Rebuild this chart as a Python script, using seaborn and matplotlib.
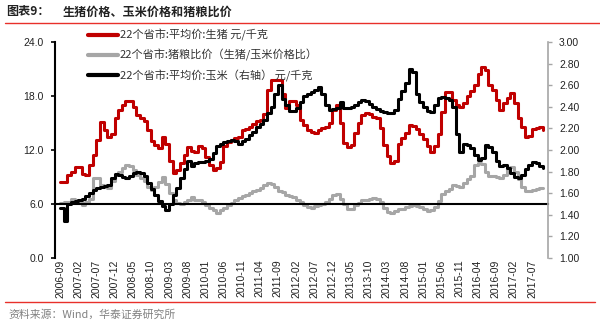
import numpy as np
import pandas as pd
import matplotlib
matplotlib.use("Agg")
import matplotlib.pyplot as plt
import seaborn as sns
from matplotlib.lines import Line2D
from matplotlib.ticker import FormatStrFormatter

# ---------------- data ----------------
months = pd.period_range("2006-09", periods=134, freq="M")

hog_price = [8.4, 8.5, 9.2, 9.6, 10.1, 10.1, 9.3, 9.2, 10.3, 11.5,
             13.1, 15.1, 14.2, 13.4, 13.8, 15.6, 16.4, 17.0, 17.4, 17.5,
             16.8, 15.9, 15.6, 15.2, 14.2, 13.0, 12.6, 12.2, 13.4, 12.7,
             10.8, 9.4, 9.8, 10.6, 11.4, 12.3, 11.9, 11.8, 12.4, 12.2,
             11.2, 10.3, 9.8, 10.0, 10.7, 12.5, 12.9, 13.1, 13.3, 13.5,
             14.2, 14.3, 14.6, 14.9, 15.2, 15.3, 16.0, 18.7, 19.8, 19.8,
             19.8, 18.2, 16.7, 17.5, 17.5, 17.0, 15.3, 14.8, 14.2, 14.0,
             13.9, 14.2, 14.4, 14.6, 15.0, 16.4, 17.0, 15.0, 12.8, 12.3,
             12.6, 13.9, 15.0, 15.9, 16.1, 16.0, 15.7, 15.6, 14.5, 12.6,
             11.3, 10.6, 10.8, 12.7, 13.3, 13.9, 14.8, 14.7, 14.3, 13.8,
             13.2, 12.4, 11.8, 12.5, 13.8, 16.2, 18.5, 18.5, 17.6, 17.0,
             16.8, 17.2, 18.0, 18.6, 19.2, 20.4, 21.2, 20.9, 19.2, 18.7,
             17.6, 16.5, 17.2, 17.8, 18.3, 17.2, 15.6, 14.6, 13.4, 13.6,
             14.3, 14.4, 14.6, 14.2]

corn_price = [1.46, 1.34, 1.50, 1.52, 1.53, 1.54, 1.55, 1.57, 1.60, 1.63,
              1.65, 1.66, 1.67, 1.68, 1.74, 1.78, 1.77, 1.75, 1.74, 1.76,
              1.79, 1.80, 1.79, 1.76, 1.69, 1.64, 1.58, 1.53, 1.48, 1.44,
              1.50, 1.58, 1.65, 1.74, 1.82, 1.90, 1.85, 1.88, 1.89, 1.89,
              1.90, 1.92, 1.97, 2.04, 2.06, 2.07, 2.08, 2.09, 2.08, 2.06,
              2.08, 2.10, 2.14, 2.17, 2.21, 2.24, 2.28, 2.34, 2.40, 2.52,
              2.60, 2.47, 2.42, 2.36, 2.36, 2.39, 2.44, 2.50, 2.52, 2.54,
              2.56, 2.58, 2.52, 2.42, 2.37, 2.38, 2.39, 2.44, 2.39, 2.39,
              2.40, 2.42, 2.44, 2.46, 2.45, 2.43, 2.40, 2.38, 2.36, 2.35,
              2.34, 2.34, 2.37, 2.47, 2.55, 2.62, 2.75, 2.72, 2.52, 2.44,
              2.40, 2.36, 2.35, 2.42, 2.48, 2.49, 2.48, 2.46, 2.40, 2.15,
              1.98, 2.06, 2.05, 2.02, 1.95, 1.91, 1.93, 2.05, 2.03, 1.98,
              1.90, 1.85, 1.86, 1.83, 1.79, 1.75, 1.74, 1.77, 1.82, 1.86,
              1.89, 1.88, 1.85, 1.83]

hog_corn_ratio = [6.1, 6.2, 6.2, 6.6, 6.4, 6.2, 5.9, 6.2, 6.6, 8.9,
                  8.9, 8.1, 8.0, 7.8, 8.6, 9.2, 9.6, 10.0, 10.3, 10.2,
                  9.8, 9.2, 8.9, 8.6, 7.9, 7.6, 7.9, 8.4, 9.0, 8.2,
                  7.2, 6.4, 6.1, 6.0, 6.2, 6.5, 6.8, 6.5, 6.4, 6.2,
                  5.9, 5.6, 5.3, 5.0, 5.3, 5.6, 5.9, 6.1, 6.4, 6.7,
                  6.9, 7.0, 7.2, 7.4, 7.6, 7.8, 8.1, 8.3, 8.2, 7.9,
                  7.5, 7.3, 7.0, 6.9, 6.8, 6.5, 6.2, 5.9, 5.7, 5.6,
                  5.8, 5.9, 6.0, 6.2, 6.6, 7.0, 7.1, 6.6, 6.0, 5.4,
                  5.5, 5.9, 6.1, 6.4, 6.5, 6.6, 6.7, 6.6, 6.2, 5.6,
                  5.1, 5.0, 5.2, 5.4, 5.5, 5.7, 5.8, 5.9, 5.8, 5.7,
                  5.4, 5.2, 5.3, 5.7, 6.3, 7.1, 7.5, 7.7, 8.1, 8.0,
                  7.9, 8.3, 8.8, 9.1, 10.3, 10.6, 10.5, 9.6, 9.1, 9.1,
                  9.0, 8.9, 9.2, 9.9, 10.1, 9.6, 8.8, 7.9, 7.5, 7.5,
                  7.6, 7.7, 7.8, 7.8]

tick_labels = [str(p) for p in months[::5]]

series_names = ["22个省市:平均价:生猪 元/千克",
                "22个省市:猪粮比价（生猪/玉米价格比）",
                "22个省市:平均价:玉米（右轴） 元/千克"]

left_ticks = [0, 6, 12, 18, 24]
right_ticks = [1.0, 1.2, 1.4, 1.6, 1.8, 2.0, 2.2, 2.4, 2.6, 2.8, 3.0]

df = pd.DataFrame({
    "idx": np.arange(len(months)),
    "hog": hog_price,
    "ratio": hog_corn_ratio,
    "corn": corn_price,
})

# ---------------- style ----------------
sns.set_style("white")
plt.rcParams["font.family"] = ["Liberation Sans", "Noto Sans CJK SC", "DejaVu Sans"]
CJK = ["Noto Sans CJK SC", "DejaVu Sans"]

RED = "#C00000"
GRAY = "#A6A6A6"
BLACK = "#000000"

fig = plt.figure(figsize=(6.0, 3.24), dpi=100)
ax = fig.add_axes([55 / 600, 1 - 258 / 324, (548 - 55) / 600, (258 - 42) / 324])
ax2 = ax.twinx()

sns.lineplot(data=df, x="idx", y="hog", ax=ax, color=RED, lw=2.2,
             drawstyle="steps-post", legend=False)
sns.lineplot(data=df, x="idx", y="ratio", ax=ax, color=GRAY, lw=2.2,
             drawstyle="steps-post", legend=False)
sns.lineplot(data=df, x="idx", y="corn", ax=ax2, color=BLACK, lw=2.2,
             drawstyle="steps-post", legend=False)

# spines (set before ticks, since moving a spine resets ticks)
for s in ["top", "right"]:
    ax.spines[s].set_visible(False)
ax.spines["bottom"].set_position(("data", 6))
ax.spines["bottom"].set_color(BLACK)
ax.spines["bottom"].set_linewidth(1.5)
ax.spines["left"].set_color(BLACK)
ax.spines["left"].set_linewidth(1.5)
for s in ["top", "bottom", "left"]:
    ax2.spines[s].set_visible(False)
ax2.spines["right"].set_color(GRAY)
ax2.spines["right"].set_linewidth(1.2)

# axes limits / ticks
ax.set_xlim(-1.4, 134.4)
ax.set_ylim(0, 24)
ax.set_yticks(left_ticks)
ax.yaxis.set_major_formatter(FormatStrFormatter("%.1f"))
ax2.set_ylim(1, 3)
ax2.set_yticks(right_ticks)
ax2.yaxis.set_major_formatter(FormatStrFormatter("%.2f"))

ax.set_xticks(np.arange(0, len(months), 5))
ax.set_xticklabels(tick_labels)
ax.set_xlabel("")
ax.set_ylabel("")
ax2.set_ylabel("")

ax.tick_params(axis="x", direction="in", length=4, width=1.2, pad=40,
               labelrotation=90, labelsize=7.5,
               color=BLACK, labelcolor="#222222")
ax.tick_params(axis="y", direction="out", length=3, width=1.2, pad=5,
               labelsize=7.5, color=BLACK, labelcolor="#222222", left=True)
ax2.tick_params(axis="y", direction="out", length=3, width=1.0, pad=5,
                labelsize=7.5, color=GRAY, labelcolor="#222222", right=True)
ax.grid(False)
ax2.grid(False)

# legend
handles = [Line2D([], [], color=RED, lw=3),
           Line2D([], [], color=GRAY, lw=3),
           Line2D([], [], color=BLACK, lw=3)]
leg = fig.legend(handles, series_names, loc="upper left",
                 bbox_to_anchor=(88 / 600, 1 - 29 / 324), frameon=False,
                 borderpad=0, borderaxespad=0, handlelength=2.7,
                 handletextpad=0.15, labelspacing=0.75,
                 prop={"family": CJK, "size": 8})
for t in leg.get_texts():
    t.set_color("#333333")

# title, rules and source
fig.text(6 / 600, 1 - 12 / 324, "图表9：", family=CJK, fontsize=8.7,
         weight="bold", va="center", ha="left", color="#222222")
fig.text(63 / 600, 1 - 12 / 324, "生猪价格、玉米价格和猪粮比价", family=CJK,
         fontsize=8.7, weight="bold", va="center", ha="left", color="#222222")
fig.add_artist(Line2D([5 / 600, 1.0], [1 - 23 / 324, 1 - 23 / 324],
                      color="#E8302A", lw=1.0, transform=fig.transFigure))
fig.add_artist(Line2D([5 / 600, 595 / 600], [1 - 302 / 324, 1 - 302 / 324],
                      color="#E8302A", lw=1.0, transform=fig.transFigure))
fig.text(8 / 600, 1 - 315 / 324, "资料来源：Wind，华泰证券研究所", family=CJK,
         fontsize=7.8, va="center", ha="left", color="#808080")

fig.savefig("out.png", dpi=100)
